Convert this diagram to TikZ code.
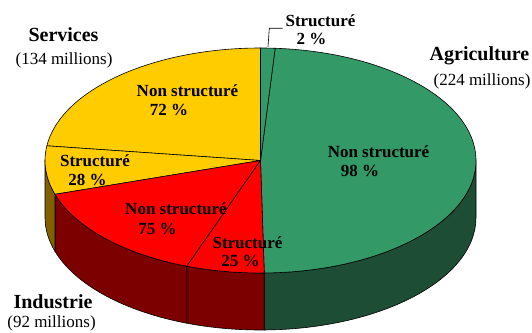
\documentclass[tikz,border=0pt]{standalone}
\usepackage{fontspec}
\setmainfont{Liberation Serif}
\definecolor{agtop}{RGB}{51,153,102}
\definecolor{agside}{RGB}{30,77,54}
\definecolor{intop}{RGB}{255,0,0}
\definecolor{inwall}{RGB}{124,0,0}
\definecolor{svtop}{RGB}{255,204,0}
\definecolor{svwall}{RGB}{128,96,0}
\newcommand\pieside[3]{%
  \filldraw[edge,fill=#3] (C) ++(#1:215.5pt and 112.5pt)
    arc[start angle=#1,end angle=#2,x radius=215.5pt,y radius=112.5pt]
    -- ++(0,-57)
    arc[start angle=#2,end angle=#1,x radius=215.5pt,y radius=112.5pt] -- cycle;}
\newcommand\pietop[3]{%
  \filldraw[edge,fill=#3] (C) -- ++(#1:215.5pt and 112.5pt)
    arc[start angle=#1,end angle=#2,x radius=215.5pt,y radius=112.5pt] -- cycle;}
\begin{document}
\begin{tikzpicture}[x=1pt,y=1pt,
  edge/.style={draw=black,line width=0.6pt,line join=round},
  cat/.style={font=\fontsize{20}{22}\selectfont\bfseries,inner sep=0pt},
  cnt/.style={font=\fontsize{17}{19}\selectfont,inner sep=0pt},
  lab/.style={font=\fontsize{17}{19}\selectfont\bfseries,inner sep=0pt},
  leader/.style={draw=black,line width=0.6pt}]
\useasboundingbox (0,0) rectangle (532,332);
\coordinate (C) at (260.5,171.5);
% side walls
\pieside{271}{360}{agside}
\pieside{250}{271}{inwall}
\pieside{197.5}{250}{inwall}
\pieside{180}{197.5}{svwall}
% top faces
\pietop{-89}{86.1}{agtop}
\pietop{86.1}{90}{agtop}
\pietop{90}{172.5}{svtop}
\pietop{172.5}{197.5}{svtop}
\pietop{197.5}{250}{intop}
\pietop{250}{271}{intop}
% category labels
\node[cat] (sv) at (63.5,297) {Services};
\node[cnt] (svm) at (64,272) {(134 millions)};
\node[cat] (ag) at (479.5,276) {Agriculture};
\node[cnt] (agm) at (482,251) {(224 millions)};
\node[cat] (in) at (53,30) {Industrie};
\node[cnt] (inm) at (51.5,8.5) {(92 millions)};
% slice labels
\node[lab] (y1a) at (187.5,241) {Non structuré};
\node[lab] (y1b) at (169,222) {72 \%};
\node[lab] (y2a) at (95,171) {Structuré};
\node[lab] (y2b) at (87.5,152) {28 \%};
\node[lab] (r1a) at (176,123) {Non structuré};
\node[lab] (r1b) at (157.5,103) {75 \%};
\node[lab] (r2a) at (247.5,89) {Structuré};
\node[lab] (r2b) at (240.5,71) {25 \%};
\node[lab] (g1a) at (378.5,180.5) {Non structuré};
\node[lab] (g1b) at (360,161) {98 \%};
\node[lab] (g2a) at (320.5,311) {Structuré};
\node[lab] (g2b) at (311.5,293) {2 \%};
% leader line
\coordinate (ls) at (268,285);
\coordinate (lc) at (269.3,303.7);
\coordinate (le) at (282.7,303.7);
\draw[leader] (ls) -- (lc) -- (le);
\end{tikzpicture}
\end{document}
